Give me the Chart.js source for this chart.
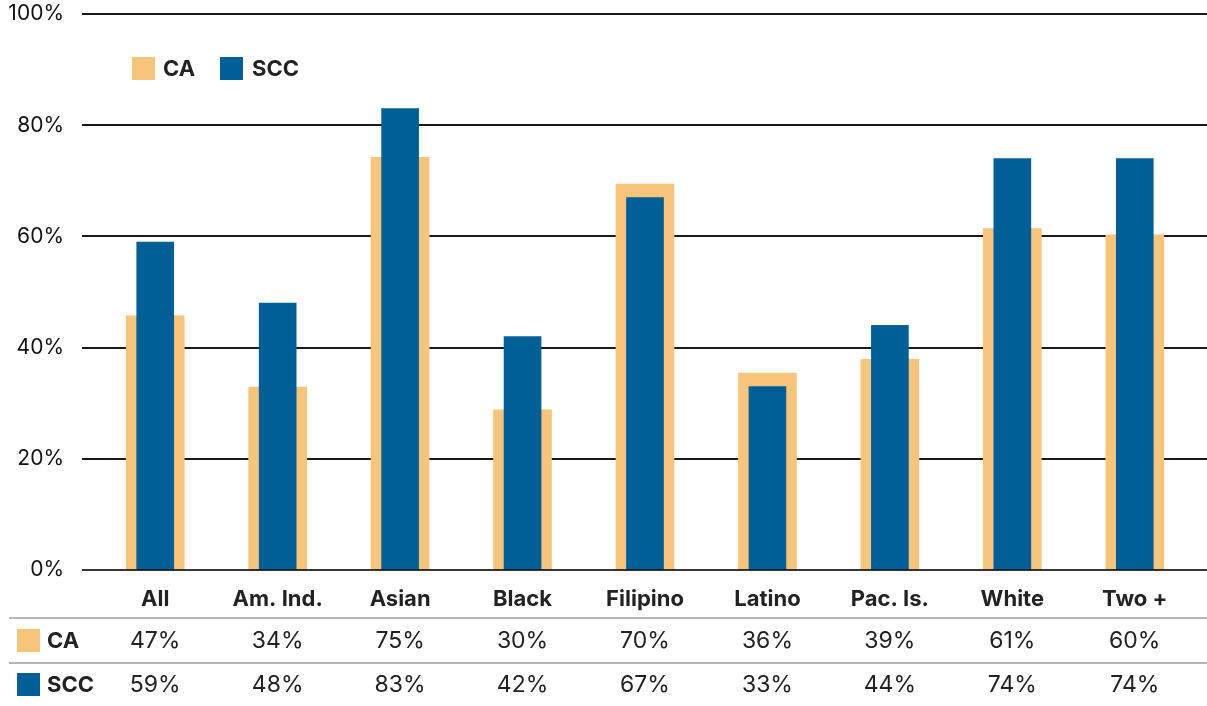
<!DOCTYPE html>
<html>
<head>
<meta charset="utf-8">
<script src="https://cdn.jsdelivr.net/npm/chart.js@4"></script>
<style>
  body { margin: 0; background: #fff; }
  #wrap { width: 1207px; height: 706px; position: relative; }
</style>
</head>
<body>
<div id="wrap"><canvas id="barChart"></canvas></div>
<script>
const categories = ['All', 'Am. Ind.', 'Asian', 'Black', 'Filipino', 'Latino', 'Pac. Is.', 'White', 'Two +'];
// bar heights as drawn in the picture
const caValues = [45.7, 32.9, 74.2, 28.8, 69.4, 35.4, 37.9, 61.4, 60.3];
const sccValues = [59, 48, 83, 42, 67, 33, 44, 74, 74];
// figures printed in the table under the chart
const caTable = ['47%', '34%', '75%', '30%', '70%', '36%', '39%', '61%', '60%'];
const sccTable = ['59%', '48%', '83%', '42%', '67%', '33%', '44%', '74%', '74%'];
const seriesNames = ['CA', 'SCC'];

const caColor = '#F6C47A';
const sccColor = '#015F98';
const fontName = 'Inter';

// horizontal grid lines run wider than the bars
const gridPlugin = {
    id: 'gridLines',
    beforeDatasetsDraw(chart) {
        let ctx = chart.ctx;
        let y = chart.scales.y;
        ctx.save();
        ctx.strokeStyle = '#1a1a1a';
        ctx.lineWidth = 2;
        y.ticks.forEach(t => {
            if (t.value === 0) return;
            let py = Math.round(y.getPixelForValue(t.value));
            ctx.beginPath();
            ctx.moveTo(82, py);
            ctx.lineTo(chart.width, py);
            ctx.stroke();
        });
        ctx.restore();
    },
    afterDatasetsDraw(chart) {
        let ctx = chart.ctx;
        let py = Math.round(chart.scales.y.getPixelForValue(0));
        ctx.save();
        ctx.strokeStyle = 'rgba(20,20,20,0.85)';
        ctx.lineWidth = 2;
        ctx.beginPath();
        ctx.moveTo(82, py);
        ctx.lineTo(chart.width, py);
        ctx.stroke();
        ctx.restore();
    }
};

// legend at top-left and data table under the axis
const tablePlugin = {
    id: 'legendTable',
    afterDraw(chart) {
        let ctx = chart.ctx;
        let x = chart.scales.x;
        ctx.save();

        // top legend
        ctx.font = `bold 22px ${fontName}`;
        ctx.textBaseline = 'middle';
        ctx.textAlign = 'left';
        ctx.fillStyle = caColor;
        ctx.fillRect(132, 57, 23, 23);
        ctx.fillStyle = sccColor;
        ctx.fillRect(220, 57, 23, 23);
        ctx.fillStyle = '#222';
        ctx.fillText(seriesNames[0], 163, 69);
        ctx.fillText(seriesNames[1], 252, 69);

        // table rules
        ctx.strokeStyle = '#b5b5b5';
        ctx.lineWidth = 2;
        [618, 663].forEach(py => {
            ctx.beginPath();
            ctx.moveTo(9, py);
            ctx.lineTo(chart.width, py);
            ctx.stroke();
        });

        let rows = [
            { name: seriesNames[0], color: caColor, cells: caTable, y: 641 },
            { name: seriesNames[1], color: sccColor, cells: sccTable, y: 685 }
        ];
        rows.forEach(r => {
            ctx.fillStyle = r.color;
            ctx.fillRect(17, r.y - 12, 23, 23);
            ctx.fillStyle = '#222';
            ctx.textAlign = 'left';
            ctx.font = `bold 22px ${fontName}`;
            ctx.fillText(r.name, 47, r.y);
            ctx.textAlign = 'center';
            ctx.font = `23px ${fontName}`;
            r.cells.forEach((c, i) => {
                ctx.fillText(c, x.getPixelForValue(i), r.y);
            });
        });
        ctx.restore();
    }
};

document.addEventListener('DOMContentLoaded', function () {
    let ctx = document.getElementById('barChart').getContext('2d');
    new Chart(ctx, {
        type: 'bar',
        data: {
            labels: categories,
            datasets: [
                { label: 'SCC', data: sccValues, backgroundColor: sccColor, barThickness: 37, grouped: false, order: 0 },
                { label: 'CA', data: caValues, backgroundColor: caColor, barThickness: 58, grouped: false, order: 1 }
            ]
        },
        options: {
            responsive: true,
            maintainAspectRatio: false,
            animation: false,
            layout: { padding: { top: 14, right: 11, left: 0, bottom: 0 } },
            plugins: {
                legend: { display: false },
                tooltip: { enabled: false }
            },
            scales: {
                x: {
                    grid: { display: false, drawTicks: false },
                    border: { display: false },
                    ticks: {
                        color: '#222',
                        font: { family: fontName, size: 22, weight: 'bold' },
                        padding: 16,
                        maxRotation: 0
                    },
                    afterFit(scale) { scale.height = 136; }
                },
                y: {
                    min: 0,
                    max: 100,
                    grid: { display: false, drawTicks: false },
                    border: { display: false },
                    ticks: {
                        stepSize: 20,
                        color: '#111',
                        font: { family: fontName, size: 21 },
                        padding: 30,
                        callback: v => v + '%'
                    },
                    afterFit(scale) {
                        // ticks.padding also pads top/bottom; drop that
                        scale.width = 94;
                        scale.paddingTop = 0;
                        scale.paddingBottom = 0;
                    }
                }
            }
        },
        plugins: [gridPlugin, tablePlugin]
    });
});
</script>
</body>
</html>
